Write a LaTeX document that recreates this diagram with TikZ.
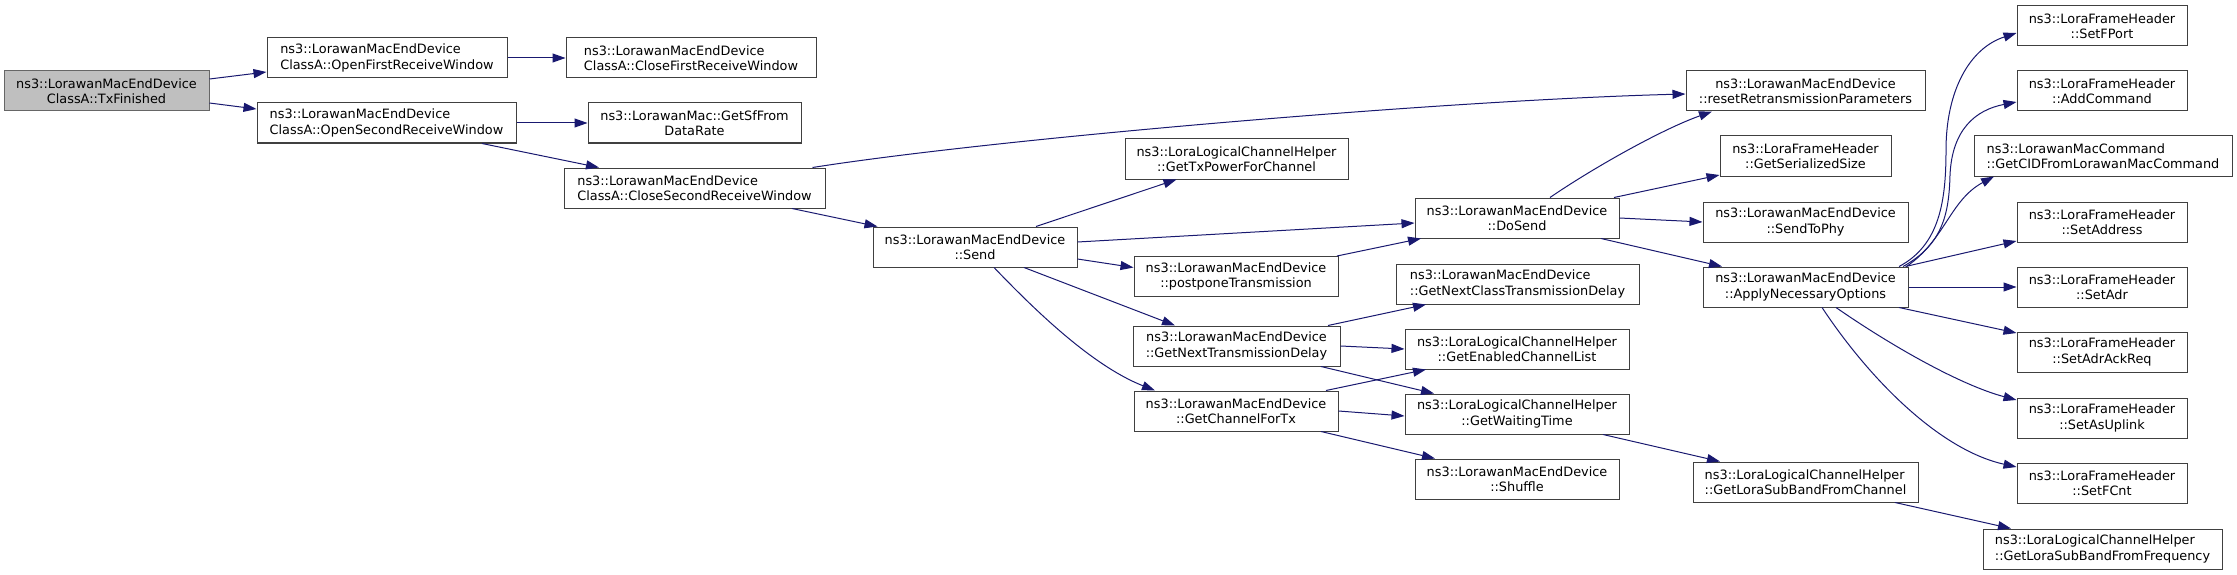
\documentclass[tikz,border=0pt]{standalone}
\usepackage{fontspec}
\setmainfont{DejaVu Sans}
\usetikzlibrary{arrows.meta}
\definecolor{edgecol}{HTML}{191970}
\definecolor{boxline}{HTML}{404040}
\definecolor{rootfill}{HTML}{BFBFBF}
\definecolor{rootline}{HTML}{666666}
\begin{document}
\begin{tikzpicture}[x=1pt,y=-1pt,
  box/.style={draw=boxline, fill=white, line width=1pt, inner sep=0pt, minimum height=40pt, minimum width=204pt, font=\fontsize{12.85pt}{15.4pt}\selectfont, align=center},
  lbox/.style={box, align=left},
  rootbox/.style={box, draw=rootline, fill=rootfill},
  edge/.style={draw=edgecol, line width=1pt, -{Triangle[length=13pt,width=9pt]}}]
\useasboundingbox[fill=white] (0,0) rectangle (2237,575);
% column 1
\node[rootbox, minimum width=205pt] (tx) at (106.5,91) {ns3::LorawanMacEndDevice\\ClassA::TxFinished};
% column 2
\node[lbox, minimum width=240pt] (of) at (387,58) {ns3::LorawanMacEndDevice\\ClassA::OpenFirstReceiveWindow};
\node[lbox, minimum width=259pt] (os) at (386.5,123) {ns3::LorawanMacEndDevice\\ClassA::OpenSecondReceiveWindow};
% column 3
\node[lbox, minimum width=250pt] (cf) at (691,58) {ns3::LorawanMacEndDevice\\ClassA::CloseFirstReceiveWindow};
\node[box, minimum width=213pt] (sf) at (694.5,123) {ns3::LorawanMac::GetSfFrom\\DataRate};
\node[lbox, minimum width=261pt] (cs) at (694.5,188) {ns3::LorawanMacEndDevice\\ClassA::CloseSecondReceiveWindow};
% column 4
\node[box] (send) at (975,247) {ns3::LorawanMacEndDevice\\::Send};
% column 5
\node[box, minimum width=223pt] (txp) at (1236.5,159) {ns3::LoraLogicalChannelHelper\\::GetTxPowerForChannel};
\node[box] (post) at (1236,276.5) {ns3::LorawanMacEndDevice\\::postponeTransmission};
\node[box, minimum width=207pt] (gntd) at (1236.5,346) {ns3::LorawanMacEndDevice\\::GetNextTransmissionDelay};
\node[box] (gcft) at (1236,411) {ns3::LorawanMacEndDevice\\::GetChannelForTx};
% column 6
\node[box] (dosend) at (1517,218) {ns3::LorawanMacEndDevice\\::DoSend};
\node[lbox, minimum width=243pt] (gnctd) at (1517.5,284) {ns3::LorawanMacEndDevice\\::GetNextClassTransmissionDelay};
\node[box, minimum width=224pt] (gecl) at (1517,349) {ns3::LoraLogicalChannelHelper\\::GetEnabledChannelList};
\node[box, minimum width=224pt] (gwt) at (1517,414) {ns3::LoraLogicalChannelHelper\\::GetWaitingTime};
\node[box] (shuf) at (1517,479) {ns3::LorawanMacEndDevice\\::Shuffle};
% column 7
\node[box, minimum width=239pt] (reset) at (1805.5,91) {ns3::LorawanMacEndDevice\\::resetRetransmissionParameters};
\node[box, minimum width=171pt] (gss) at (1805.5,156) {ns3::LoraFrameHeader\\::GetSerializedSize};
\node[box, minimum width=205pt] (stp) at (1805.5,222) {ns3::LorawanMacEndDevice\\::SendToPhy};
\node[box, minimum width=205pt] (ano) at (1805.5,287) {ns3::LorawanMacEndDevice\\::ApplyNecessaryOptions};
\node[lbox, minimum width=225pt] (glsc) at (1805.5,482) {ns3::LoraLogicalChannelHelper\\::GetLoraSubBandFromChannel};
% column 8
\node[box, minimum width=170pt] (fport) at (2102,26) {ns3::LoraFrameHeader\\::SetFPort};
\node[box, minimum width=170pt] (addc) at (2102,91) {ns3::LoraFrameHeader\\::AddCommand};
\node[lbox, minimum width=258pt] (cid) at (2103,156) {ns3::LorawanMacCommand\\::GetCIDFromLorawanMacCommand};
\node[box, minimum width=170pt] (saddr) at (2102,222) {ns3::LoraFrameHeader\\::SetAddress};
\node[box, minimum width=170pt] (sadr) at (2102,287) {ns3::LoraFrameHeader\\::SetAdr};
\node[box, minimum width=170pt] (sack) at (2102,352) {ns3::LoraFrameHeader\\::SetAdrAckReq};
\node[box, minimum width=170pt] (sup) at (2102,418) {ns3::LoraFrameHeader\\::SetAsUplink};
\node[box, minimum width=170pt] (sfc) at (2102,483) {ns3::LoraFrameHeader\\::SetFCnt};
\node[lbox, minimum width=239pt] (glsf) at (2102.5,549) {ns3::LoraLogicalChannelHelper\\::GetLoraSubBandFromFrequency};
% edges
\draw[edge] ([yshift=12pt]tx.east) -- ([yshift=-14pt]of.west);
\draw[edge] ([yshift=-12pt]tx.east) -- ([yshift=14pt]os.west);
\draw[edge] (of.east) -- (cf.west);
\draw[edge] (os.east) -- (sf.west);
\draw[edge] ([xshift=95.5pt]os.south) -- ([xshift=-95.5pt]cs.north);
\draw[edge] ([xshift=118pt]cs.north) .. controls (1000,138) and (1450,100) .. ([yshift=-3pt]reset.west);
\draw[edge] ([xshift=97.5pt]cs.south) -- ([xshift=-97.5pt]send.north);
\draw[edge] ([xshift=61pt]send.north) -- ([xshift=-60pt]txp.south);
\draw[edge] ([yshift=5pt]send.east) -- ([yshift=-5pt]dosend.west);
\draw[edge] ([yshift=-12pt]send.east) -- ([yshift=9pt]post.west);
\draw[edge] ([xshift=49pt]send.south) -- ([xshift=-61.5pt]gntd.north);
\draw[edge] ([xshift=19pt]send.south) .. controls (1030,305) and (1090,365) .. ([xshift=-81pt]gcft.north);
\draw[edge] ([xshift=101pt]post.north) -- ([xshift=-96pt]dosend.south);
\draw[edge] ([xshift=33pt]dosend.north) .. controls (1590,170) and (1660,130) .. ([xshift=-93.5pt]reset.south);
\draw[edge] ([xshift=97pt]dosend.north) -- ([yshift=-19pt]gss.west);
\draw[edge] (dosend.east) -- (stp.west);
\draw[edge] ([xshift=84pt]dosend.south) -- ([xshift=-83.5pt]ano.north);
\draw[edge] ([xshift=91.5pt]gntd.north) -- ([xshift=-91.5pt]gnctd.south);
\draw[edge] (gntd.east) -- (gecl.west);
\draw[edge] ([xshift=84.5pt]gntd.south) -- ([xshift=-83pt]gwt.north);
\draw[edge] ([xshift=90pt]gcft.north) -- ([xshift=-91pt]gecl.south);
\draw[edge] (gcft.east) -- ([yshift=-2pt]gwt.west);
\draw[edge] ([xshift=85pt]gcft.south) -- ([xshift=-82pt]shuf.north);
\draw[edge] ([xshift=86pt]gwt.south) -- ([xshift=-85.5pt]glsc.north);
\draw[edge] ([xshift=89.5pt]glsc.south) -- ([xshift=-91.5pt]glsf.north);
\draw[edge] ([xshift=93.5pt]ano.north) .. controls (1940,245) and (1946,200) .. (1946,150) .. controls (1946,90) and (1970,48) .. ([yshift=-7pt]fport.west);
\draw[edge] ([xshift=97.5pt]ano.north) .. controls (1942,245) and (1949,215) .. (1950,175) .. controls (1952,130) and (1975,110) .. ([yshift=-11pt]addc.west);
\draw[edge] ([xshift=101pt]ano.north) .. controls (1945,240) and (1950,200) .. ([xshift=-109pt]cid.south);
\draw[edge] ([xshift=100pt]ano.north) -- ([yshift=-19pt]saddr.west);
\draw[edge] (ano.east) -- (sadr.west);
\draw[edge] ([xshift=93.5pt]ano.south) -- ([yshift=19pt]sack.west);
\draw[edge] ([xshift=30.5pt]ano.south) .. controls (1890,345) and (1960,385) .. ([yshift=18pt]sup.west);
\draw[edge] ([xshift=16.5pt]ano.south) .. controls (1870,380) and (1940,450) .. ([yshift=16pt]sfc.west);
\end{tikzpicture}
\end{document}
